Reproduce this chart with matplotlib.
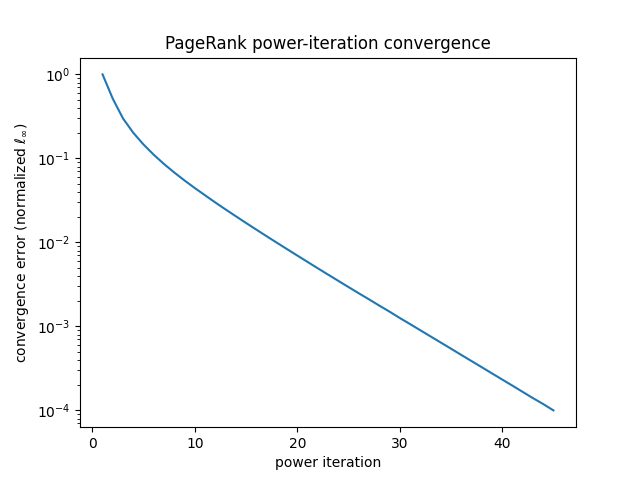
import matplotlib

matplotlib.use("Agg")
import matplotlib.pyplot as plt

# error per power iteration (log scale)
iterations = list(range(1, 46))
errors = [
    1.0, 0.513, 0.2985, 0.2018, 0.1462, 0.1104, 0.0857, 0.0679, 0.0546, 0.0444,
    0.0364, 0.0299, 0.0247, 0.0205, 0.01704, 0.01421, 0.01187, 0.00993, 0.00832, 0.00698,
    0.00586, 0.00492, 0.00414, 0.00349, 0.00294, 0.00248, 0.00210, 0.00177, 0.00150, 0.00126,
    0.001067, 0.000901, 0.000761, 0.000643, 0.000543, 0.000458, 0.000387, 0.000327, 0.000276, 0.000233,
    0.000197, 0.000166, 0.000140, 0.000119, 0.000100,
]

fig, ax = plt.subplots(figsize=(6.4, 4.8), dpi=100)
ax.plot(iterations, errors)
ax.set_yscale("log")
ax.set_xlabel("power iteration")
ax.set_ylabel(r"convergence error (normalized $\ell_\infty$)")
ax.set_title("PageRank power-iteration convergence")

fig.savefig("out.png")
